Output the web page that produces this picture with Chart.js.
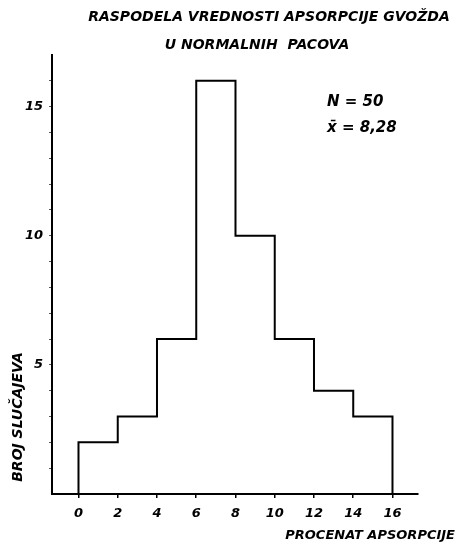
<!DOCTYPE html>
<html>
<head>
<meta charset="utf-8">
<script src="https://cdn.jsdelivr.net/npm/chart.js@4/dist/chart.umd.min.js"></script>
<style>
  html, body { margin: 0; padding: 0; background: #fff; }
  #wrap { position: relative; width: 458px; height: 545px; }
</style>
</head>
<body>
<div id="wrap"><canvas id="hist"></canvas></div>
<script>
// Histogram: iron absorption in normal rats (N = 50)
const binEdges = [0, 2, 4, 6, 8, 10, 12, 14, 16];
const counts = [2, 3, 6, 16, 10, 6, 4, 3];
const xTicks = [0, 2, 4, 6, 8, 10, 12, 14, 16];
const yTicks = [1, 2, 3, 4, 5, 6, 7, 8, 9, 10, 11, 12, 13, 14, 15, 16];
const yLabelled = [5, 10, 15];

const titleLines = ['RASPODELA VREDNOSTI APSORPCIJE GVOŽDA', 'U NORMALNIH  PACOVA'];
const statLines = ['N = 50', 'x̄ = 8,28'];
const xTitle = 'PROCENAT APSORPCIJE';
const yTitle = 'BROJ SLUČAJEVA';

const FONT = '"DejaVu Sans", sans-serif';

// outline of the histogram as a stepped line: up at 0, across each bin, down at 16
const points = [{ x: binEdges[0], y: 0 }]
    .concat(counts.map((c, i) => ({ x: binEdges[i], y: c })))
    .concat([{ x: binEdges[binEdges.length - 1], y: 0 }]);

const textPlugin = {
    id: 'texts',
    afterDraw(chart) {
        const ctx = chart.ctx;
        ctx.save();
        ctx.fillStyle = '#000';
        ctx.textBaseline = 'middle';
        ctx.textAlign = 'center';
        ctx.font = 'bold italic 14px ' + FONT;
        ctx.fillText(titleLines[0], 269, 17);
        ctx.fillText(titleLines[1], 257, 45);

        ctx.textAlign = 'left';
        ctx.font = 'bold italic 15px ' + FONT;
        ctx.fillText(statLines[0], 327, 102);
        ctx.fillText(statLines[1], 327, 128);

        ctx.font = 'bold italic 13px ' + FONT;
        ctx.textAlign = 'right';
        ctx.fillText(xTitle, 455, 536);

        ctx.translate(18, 417);
        ctx.rotate(-Math.PI / 2);
        ctx.textAlign = 'center';
        ctx.font = 'bold italic 14px ' + FONT;
        ctx.fillText(yTitle, 0, 0);
        ctx.restore();
    }
};

new Chart(document.getElementById('hist').getContext('2d'), {
    type: 'line',
    data: {
        datasets: [{
            data: points,
            stepped: 'before',
            borderColor: '#000',
            borderWidth: 2,
            pointRadius: 0,
            fill: false,
            clip: false
        }]
    },
    options: {
        responsive: true,
        maintainAspectRatio: false,
        animation: false,
        layout: { padding: { top: 55, right: 40, bottom: 0, left: 0 } },
        plugins: {
            legend: { display: false },
            tooltip: { enabled: false },
            title: { display: false }
        },
        scales: {
            x: {
                type: 'linear',
                min: -1.35,
                max: 17.3,
                afterBuildTicks: (s) => { s.ticks = xTicks.map(v => ({ value: v })); },
                afterFit: (s) => { s.height = 51; },
                border: { display: true, color: '#000', width: 2 },
                grid: { drawOnChartArea: false, drawTicks: true, tickLength: 4, color: '#000', lineWidth: 1.5 },
                ticks: {
                    color: '#000',
                    padding: 8,
                    maxRotation: 0,
                    font: { family: FONT, size: 13, weight: 'bold', style: 'italic' }
                }
            },
            y: {
                min: 0,
                max: 17,
                afterBuildTicks: (s) => { s.ticks = yTicks.map(v => ({ value: v })); },
                afterFit: (s) => { s.width = 52; },
                border: { display: true, color: '#000', width: 2 },
                grid: { drawOnChartArea: false, drawTicks: true, tickLength: 3, color: '#555', lineWidth: 1 },
                ticks: {
                    color: '#000',
                    padding: 6,
                    autoSkip: false,
                    callback: (v) => yLabelled.includes(v) ? String(v) : '',
                    font: { family: FONT, size: 13, weight: 'bold', style: 'italic' }
                }
            }
        }
    },
    plugins: [textPlugin]
});
</script>
</body>
</html>
